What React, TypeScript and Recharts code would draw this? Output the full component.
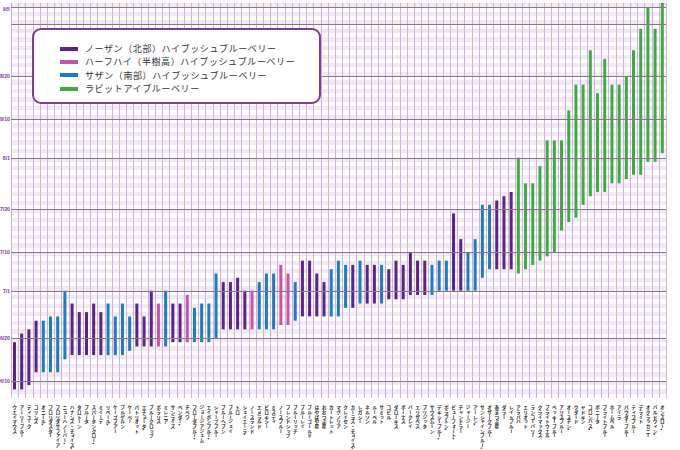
import { BarChart, Bar, XAxis, YAxis, CartesianGrid, Cell, ReferenceLine } from "recharts";

// 品種名（左から順）
const varieties = [
  "ウエイマウス", "アーリーブルー", "ディユーク", "コリンズ", "オニール•", "フロリダスター", "フロリダサファイア", "ニューハノーバー•",
  "ハナンズ・チョイス•", "タロトーン", "ブルータ", "スパータンクロー•", "ミイーデ", "リベール•", "ケープフアー", "ブルゲルン",
  "ケーペー", "パトリオット", "エチョータ•", "ブルークロップ", "ポラリス", "ミレニア", "サンライズ", "ベンダー•",
  "チペワ", "フローダブルー•", "ジョージアジェム", "エイボンブルー•", "シャープブルー", "ブルーヘブン", "ブルージェイ", "トロ",
  "シェイエーラ•", "ノースランド", "エメラルド", "ビロキシー", "ミスティ", "ノースブルー", "フレンドシップ", "ブルーリッチ",
  "ブルーレイ", "ブルーゴールド", "はやばや星", "おおつぶ星", "カートレット", "マグノリア", "クレイセン", "カーラズ・チョイス•",
  "レガシー", "ネルソン", "ルーベル", "サミット", "コビル", "ダローキス", "ボーナス", "バークレイ",
  "エリザベス", "ブリジッタ", "サウスムーン", "デキシーブルー•", "ポラブトン•", "ビューフォート•", "チャンドラー", "ジャージー",
  "アーレン•", "サンシャインブルー•", "オザークブルー", "あまつぶ星", "ダラー", "レイトブルー", "アラパハ", "エリオット",
  "ランコーバリー", "クライマックス", "ブライトウエル", "ベッキーブルー", "アリスブルー", "オースチン•", "ウダード", "ヤドキン",
  "コロンバス•", "ボニータ", "ブライトブルー", "ホームベル", "アイラ", "パウダーブルー", "ティフブルー", "デライト",
  "オクラッカニー", "バルドウィン•", "オンズロー•",
];

// N=ノーザン, H=ハーフハイ, S=サザン, R=ラビットアイ
const kinds = [
  "N", "N", "N", "N", "S", "S", "S", "S", "N", "N", "N", "N", "N", "S", "S", "S",
  "S", "N", "N", "N", "H", "S", "N", "N", "H", "S", "S", "S", "S", "N", "N", "N",
  "N", "H", "S", "S", "S", "H", "H", "S", "N", "N", "N", "N", "S", "S", "S", "N",
  "S", "N", "N", "S", "N", "N", "N", "N", "N", "N", "S", "S", "S", "N", "N", "S",
  "S", "S", "S", "N", "N", "N", "R", "R", "R", "R", "R", "R", "R", "R", "R", "R",
  "R", "R", "R", "R", "R", "R", "R", "R", "R", "R", "R",
];

const harvestStart = [
  "6/8", "6/8", "6/9", "6/12", "6/12", "6/12", "6/12", "6/15", "6/16", "6/16", "6/16", "6/16", "6/16", "6/16", "6/16", "6/16",
  "6/17", "6/18", "6/18", "6/18", "6/18", "6/18", "6/19", "6/19", "6/19", "6/19", "6/19", "6/19", "6/20", "6/22", "6/22", "6/22",
  "6/22", "6/22", "6/22", "6/22", "6/22", "6/23", "6/23", "6/24", "6/25", "6/25", "6/25", "6/25", "6/25", "6/25", "6/27", "6/27",
  "6/28", "6/28", "6/28", "6/28", "6/29", "6/29", "6/29", "6/30", "6/30", "6/30", "6/30", "7/1", "7/1", "7/1", "7/1", "7/1",
  "7/1", "7/4", "7/6", "7/6", "7/6", "7/6", "7/5", "7/6", "7/7", "7/8", "7/9", "7/10", "7/15", "7/17", "7/18", "7/21",
  "7/23", "7/24", "7/24", "7/26", "7/26", "7/27", "7/28", "7/28", "7/31", "7/31", "8/2",
];

const harvestEnd = [
  "6/19", "6/21", "6/22", "6/24", "6/24", "6/25", "6/25", "7/1", "6/28", "6/26", "6/26", "6/28", "6/26", "6/28", "6/25", "6/28",
  "6/25", "6/28", "6/25", "7/1", "6/28", "7/1", "6/28", "6/28", "6/30", "6/27", "6/28", "6/28", "7/5", "7/3", "7/3", "7/4",
  "7/1", "7/1", "7/3", "7/5", "7/5", "7/7", "7/5", "7/3", "7/8", "7/8", "7/5", "7/3", "7/6", "7/8", "7/7", "7/7",
  "7/8", "7/7", "7/7", "7/7", "7/6", "7/8", "7/7", "7/10", "7/8", "7/8", "7/7", "7/8", "7/8", "7/19", "7/13", "7/10",
  "7/13", "7/21", "7/21", "7/22", "7/23", "7/24", "8/1", "7/26", "7/26", "7/30", "8/5", "8/5", "8/5", "8/12", "8/18", "8/18",
  "8/26", "8/16", "8/24", "8/18", "8/18", "8/20", "8/26", "8/31", "9/5", "8/31", "9/6",
];

const tickDates = ["6/10", "6/20", "7/1", "7/10", "7/20", "8/1", "8/10", "8/20", "9/1", "9/5"];

const typeNames = [
  "ノーザン（北部）ハイブッシュブルーベリー",
  "ハーフハイ（半樹高）ハイブッシュブルーベリー",
  "サザン（南部）ハイブッシュブルーベリー",
  "ラビットアイブルーベリー",
];
const typeKeys = ["N", "H", "S", "R"];
const typeColors: Record<string, string> = {
  N: "#5b2287",
  H: "#c853a6",
  S: "#1b7cc0",
  R: "#3eab41",
};

// 6/1 を 0 とした日数
const toDay = (md: string) => {
  const [m, d] = md.split("/").map(Number);
  const offsets: Record<number, number> = { 6: -1, 7: 29, 8: 60, 9: 91 };
  return offsets[m] + d;
};

const tickDays = tickDates.map(toDay);
const DOMAIN: [number, number] = [5, 97];

const data = varieties.map((name, i) => ({
  name,
  kind: kinds[i],
  range: [toDay(harvestStart[i]), toDay(harvestEnd[i])],
}));

const formatTick = (v: number) => tickDates[tickDays.indexOf(v)] ?? "";
const crisp = (v: number) => Math.round(v) + 0.5;

const VerticalTick = ({ x, y, payload }: any) => (
  <text
    x={x}
    y={y + 5}
    fontSize={4.7}
    fontWeight={700}
    fill="#1e1e1e"
    fontFamily="'Noto Sans CJK JP', sans-serif"
    style={{ writingMode: "vertical-rl" }}
  >
    {payload.value}
  </text>
);

const DateTick = ({ x, y, payload, textAnchor }: any) => (
  <text
    x={x}
    y={y}
    dy={2}
    textAnchor={textAnchor}
    fontSize={5.2}
    fontWeight={700}
    fill="#7b3f9e"
    fontFamily="'Liberation Sans', Arial, sans-serif"
  >
    {formatTick(payload.value)}
  </text>
);

const MajorLine = (p: any) => (
  <line x1={p.x1} x2={p.x2} y1={crisp(p.y1)} y2={crisp(p.y2)} stroke="#857989" strokeWidth={1} />
);

const LegendBox = () => (
  <div
    style={{
      position: "absolute",
      left: 32,
      top: 28,
      width: 289,
      height: 76,
      boxSizing: "border-box",
      border: "2px solid #7d3c98",
      borderRadius: 9,
      background: "#fff",
      padding: "12px 0 0 26px",
      fontFamily: "'Noto Sans CJK JP', sans-serif",
    }}
  >
    {typeNames.map((n, i) => (
      <div key={n} style={{ display: "flex", alignItems: "center", height: 13.3 }}>
        <span style={{ width: 18, height: 4, background: typeColors[typeKeys[i]] }} />
        <span style={{ marginLeft: 7, fontSize: 9, letterSpacing: 0.6, color: "#333", lineHeight: "13px" }}>{n}</span>
      </div>
    ))}
  </div>
);

export default function App() {
  const dayCount = DOMAIN[1] - DOMAIN[0];
  return (
    <div style={{ position: "absolute", left: 0, top: 0, width: 680, height: 450, background: "#fff" }}>
      <BarChart
        width={680}
        height={450}
        data={data}
        margin={{ top: 3, right: 0, bottom: 0, left: 0 }}
        barCategoryGap={0}
      >
        <CartesianGrid
          vertical={false}
          stroke="none"
          horizontalFill={["#f1eaf5", "#ffffff"]}
          fillOpacity={1}
          horizontalCoordinatesGenerator={({ offset }: any) =>
            Array.from({ length: dayCount + 1 }, (_, k) => offset.top + (offset.height * k) / dayCount)
          }
        />
        <CartesianGrid
          horizontal={false}
          stroke="#cfb0de"
          verticalCoordinatesGenerator={({ offset }: any) =>
            Array.from({ length: data.length + 1 }, (_, k) => crisp(offset.left + (offset.width * k) / data.length))
          }
        />
        {tickDays.map((d) => (
          <ReferenceLine key={d} yAxisId="left" y={d} shape={MajorLine} />
        ))}
        <XAxis
          dataKey="name"
          interval={0}
          tick={<VerticalTick />}
          tickLine={false}
          axisLine={false}
          tickSize={0}
          height={52}
        />
        <YAxis
          yAxisId="left"
          type="number"
          domain={DOMAIN}
          ticks={tickDays}
          width={11}
          tickLine={false}
          axisLine={false}
          tickSize={0}
          tickMargin={1}
          tick={<DateTick />}
        />
        <YAxis
          yAxisId="right"
          orientation="right"
          type="number"
          domain={DOMAIN}
          ticks={tickDays}
          width={14}
          tickLine={false}
          axisLine={false}
          tickSize={0}
          tickMargin={2}
          tick={<DateTick />}
        />
        <Bar yAxisId="left" dataKey="range" barSize={3} isAnimationActive={false}>
          {data.map((d) => (
            <Cell key={d.name} fill={typeColors[d.kind]} />
          ))}
        </Bar>
      </BarChart>
      <LegendBox />
    </div>
  );
}
